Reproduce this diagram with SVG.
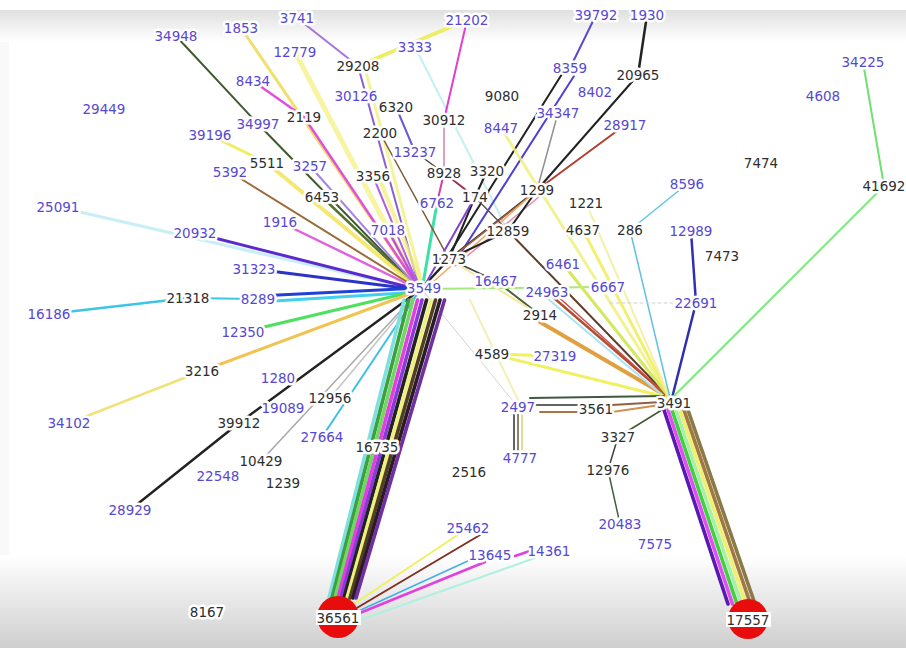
<svg xmlns="http://www.w3.org/2000/svg" width="906" height="648" viewBox="0 0 906 648">
<defs>
<linearGradient id="gTop" x1="0" y1="0" x2="0" y2="1"><stop offset="0" stop-color="#e0e0e0"/><stop offset="1" stop-color="#ffffff"/></linearGradient>
<linearGradient id="gBot" x1="0" y1="0" x2="0" y2="1"><stop offset="0" stop-color="#ffffff"/><stop offset="1" stop-color="#cfcfcf"/></linearGradient>
<style>
text{font-family:"DejaVu Sans",Verdana,sans-serif;font-size:13.5px;text-anchor:middle;paint-order:stroke;stroke:#fff;stroke-width:5px;stroke-linejoin:round}
.b{fill:#5648d2}
.k{fill:#2e2e2e}
.hub{fill:#e80c0c}
.band{fill:#fff}
#edges line{stroke-linecap:round;fill:none}
#bundles line{stroke-width:3.6}
</style>
</defs>

<!-- backdrop -->
<rect width="906" height="648" fill="#fff"/>
<rect x="0" y="10" width="906" height="32" fill="url(#gTop)"/>
<rect x="0" y="42" width="9" height="515" fill="#f9f9f9"/>
<rect x="0" y="555" width="906" height="93" fill="url(#gBot)"/>

<g id="edges">
<!-- hub 3549 -->
<line x1="176" y1="36" x2="258" y2="124" stroke="#3d5a2e" stroke-width="2"/>
<line x1="258" y1="124" x2="420" y2="290" stroke="#3d5a2e" stroke-width="2"/>
<line x1="322" y1="197" x2="420" y2="290" stroke="#55702e" stroke-width="2.5"/>
<line x1="241" y1="28" x2="420" y2="290" stroke="#efe070" stroke-width="3"/>
<line x1="295" y1="52" x2="420" y2="290" stroke="#f4f07a" stroke-width="5" opacity=".7"/>
<line x1="297" y1="18" x2="358" y2="66" stroke="#a574dc" stroke-width="2"/>
<line x1="358" y1="66" x2="420" y2="290" stroke="#8c5ed6" stroke-width="2"/>
<line x1="366" y1="72" x2="424" y2="290" stroke="#f2f080" stroke-width="3" opacity=".8"/>
<line x1="358" y1="66" x2="467" y2="20" stroke="#eeee66" stroke-width="4"/>
<line x1="253" y1="81" x2="304" y2="117" stroke="#e050d8" stroke-width="2.5"/>
<line x1="304" y1="117" x2="420" y2="290" stroke="#e050d8" stroke-width="2.5"/>
<line x1="210" y1="135" x2="267" y2="163" stroke="#eeee60" stroke-width="3"/>
<line x1="267" y1="163" x2="420" y2="290" stroke="#f2e45a" stroke-width="4" opacity=".85"/>
<line x1="230" y1="172" x2="420" y2="290" stroke="#9a6a3a" stroke-width="2"/>
<line x1="310" y1="166" x2="420" y2="290" stroke="#a585e2" stroke-width="2"/>
<line x1="58" y1="207" x2="420" y2="290" stroke="#c8eef6" stroke-width="3"/>
<line x1="280" y1="222" x2="420" y2="290" stroke="#e062dc" stroke-width="2.5"/>
<line x1="195" y1="233" x2="420" y2="290" stroke="#5a2ad0" stroke-width="3"/>
<line x1="254" y1="269" x2="420" y2="290" stroke="#2a32c8" stroke-width="3"/>
<line x1="49" y1="314" x2="188" y2="298" stroke="#3cc6e6" stroke-width="2.5"/>
<line x1="188" y1="298" x2="258" y2="299" stroke="#3cc6e6" stroke-width="2"/>
<line x1="258" y1="296" x2="420" y2="288" stroke="#2040d8" stroke-width="3"/>
<line x1="258" y1="302" x2="420" y2="292" stroke="#40d0f0" stroke-width="3"/>
<line x1="243" y1="332" x2="420" y2="290" stroke="#4ee060" stroke-width="3"/>
<line x1="69" y1="423" x2="202" y2="371" stroke="#f0e27a" stroke-width="2.5"/>
<line x1="202" y1="371" x2="420" y2="290" stroke="#f0c452" stroke-width="3"/>
<line x1="130" y1="510" x2="239" y2="423" stroke="#222" stroke-width="2.5"/>
<line x1="239" y1="423" x2="420" y2="290" stroke="#222" stroke-width="2.5"/>
<line x1="261" y1="461" x2="420" y2="290" stroke="#a8a8a8" stroke-width="1.5"/>
<line x1="330" y1="398" x2="420" y2="290" stroke="#c4c4c4" stroke-width="1.5"/>
<line x1="322" y1="437" x2="420" y2="290" stroke="#3ebee8" stroke-width="2"/>
<line x1="388" y1="230" x2="420" y2="290" stroke="#c050e0" stroke-width="2.5"/>
<line x1="373" y1="176" x2="420" y2="290" stroke="#b060e0" stroke-width="2"/>
<line x1="380" y1="180" x2="424" y2="290" stroke="#f4f080" stroke-width="4" opacity=".8"/>
<line x1="437" y1="203" x2="422" y2="290" stroke="#3ee0a8" stroke-width="3"/>
<line x1="380" y1="133" x2="449" y2="259" stroke="#7a5a3a" stroke-width="1.5"/>
<line x1="449" y1="259" x2="420" y2="290" stroke="#222" stroke-width="2.5"/>
<!-- upper cluster -->
<line x1="415" y1="47" x2="508" y2="231" stroke="#c4f0f2" stroke-width="2"/>
<line x1="467" y1="20" x2="444" y2="120" stroke="#e040d0" stroke-width="2"/>
<line x1="444" y1="120" x2="444" y2="173" stroke="#d880a8" stroke-width="1.5"/>
<line x1="396" y1="107" x2="415" y2="152" stroke="#6a5ad0" stroke-width="2"/>
<line x1="415" y1="152" x2="444" y2="173" stroke="#504040" stroke-width="1.5"/>
<line x1="444" y1="173" x2="437" y2="203" stroke="#d040a8" stroke-width="2"/>
<line x1="444" y1="173" x2="475" y2="197" stroke="#a03050" stroke-width="2"/>
<line x1="475" y1="197" x2="449" y2="259" stroke="#222" stroke-width="2"/>
<line x1="475" y1="197" x2="422" y2="290" stroke="#8040d0" stroke-width="2"/>
<line x1="487" y1="171" x2="475" y2="197" stroke="#222" stroke-width="2"/>
<line x1="596" y1="15" x2="570" y2="68" stroke="#5a4ad0" stroke-width="2"/>
<line x1="574" y1="76" x2="455" y2="262" stroke="#5040d0" stroke-width="2"/>
<line x1="562" y1="74" x2="446" y2="259" stroke="#222" stroke-width="2"/>
<line x1="647" y1="15" x2="638" y2="75" stroke="#222" stroke-width="2.5"/>
<line x1="638" y1="75" x2="537" y2="190" stroke="#222" stroke-width="2"/>
<line x1="625" y1="125" x2="537" y2="190" stroke="#b04030" stroke-width="2"/>
<line x1="558" y1="113" x2="537" y2="190" stroke="#909090" stroke-width="1.5"/>
<line x1="501" y1="128" x2="670" y2="398" stroke="#f0f080" stroke-width="3" opacity=".85"/>
<line x1="537" y1="190" x2="449" y2="259" stroke="#303030" stroke-width="2"/>
<line x1="530" y1="196" x2="445" y2="263" stroke="#b06040" stroke-width="1.5"/>
<line x1="540" y1="196" x2="455" y2="266" stroke="#e88aa8" stroke-width="1.5"/>
<line x1="537" y1="190" x2="424" y2="290" stroke="#f0a860" stroke-width="1.5"/>
<line x1="537" y1="190" x2="508" y2="231" stroke="#222" stroke-width="2"/>
<line x1="508" y1="231" x2="449" y2="259" stroke="#222" stroke-width="2"/>
<line x1="475" y1="197" x2="508" y2="231" stroke="#605050" stroke-width="1.5"/>
<!-- hub 3491 -->
<line x1="508" y1="231" x2="670" y2="398" stroke="#5e3e26" stroke-width="2"/>
<line x1="449" y1="259" x2="496" y2="281" stroke="#404040" stroke-width="1.5"/>
<line x1="496" y1="281" x2="540" y2="315" stroke="#506030" stroke-width="2"/>
<line x1="424" y1="289" x2="608" y2="287" stroke="#a8e880" stroke-width="2"/>
<line x1="449" y1="259" x2="540" y2="315" stroke="#f2e8a0" stroke-width="2"/>
<line x1="540" y1="322" x2="670" y2="398" stroke="#e0a040" stroke-width="4"/>
<line x1="547" y1="292" x2="670" y2="398" stroke="#b05030" stroke-width="2.5"/>
<line x1="553" y1="292" x2="670" y2="398" stroke="#d04848" stroke-width="1.5"/>
<line x1="547" y1="298" x2="668" y2="400" stroke="#a8e4f4" stroke-width="2"/>
<line x1="563" y1="264" x2="670" y2="398" stroke="#d4e860" stroke-width="3"/>
<line x1="583" y1="230" x2="670" y2="398" stroke="#f2f070" stroke-width="3"/>
<line x1="586" y1="203" x2="670" y2="398" stroke="#f4f0a8" stroke-width="2"/>
<line x1="492" y1="354" x2="670" y2="398" stroke="#f0f060" stroke-width="3"/>
<line x1="492" y1="354" x2="555" y2="356" stroke="#f0f060" stroke-width="3"/>
<line x1="630" y1="230" x2="670" y2="398" stroke="#60c0e0" stroke-width="1.5"/>
<line x1="687" y1="184" x2="630" y2="230" stroke="#60c8e0" stroke-width="1.5"/>
<line x1="691" y1="231" x2="696" y2="303" stroke="#3030b0" stroke-width="2.5"/>
<line x1="696" y1="303" x2="672" y2="398" stroke="#3030b0" stroke-width="2.5"/>
<line x1="884" y1="186" x2="672" y2="398" stroke="#80e880" stroke-width="2"/>
<line x1="863" y1="62" x2="884" y2="186" stroke="#70e070" stroke-width="2"/>
<line x1="530" y1="398" x2="664" y2="396" stroke="#405a40" stroke-width="2"/>
<line x1="536" y1="405" x2="580" y2="405" stroke="#303030" stroke-width="1.5"/>
<line x1="540" y1="412" x2="580" y2="412" stroke="#b07040" stroke-width="2"/>
<line x1="612" y1="405" x2="662" y2="402" stroke="#906040" stroke-width="2"/>
<line x1="612" y1="412" x2="660" y2="405" stroke="#d09050" stroke-width="2"/>
<line x1="618" y1="437" x2="665" y2="408" stroke="#405a30" stroke-width="1.5"/>
<line x1="608" y1="470" x2="618" y2="437" stroke="#404040" stroke-width="1.5"/>
<line x1="620" y1="524" x2="608" y2="470" stroke="#406040" stroke-width="1.5"/>
<line x1="514" y1="414" x2="514" y2="450" stroke="#303030" stroke-width="1.5"/>
<line x1="518" y1="414" x2="518" y2="450" stroke="#606030" stroke-width="1.5"/>
<line x1="522" y1="414" x2="522" y2="450" stroke="#d8d070" stroke-width="1.5"/>
<line x1="424" y1="292" x2="518" y2="407" stroke="#d4d4d4" stroke-width="1"/>
<line x1="470" y1="300" x2="518" y2="400" stroke="#f0f0b8" stroke-width="2"/>
<line x1="610" y1="303" x2="690" y2="303" stroke="#d0d0d0" stroke-width="1" stroke-dasharray="3 3"/>
<!-- node 36561 -->
<line x1="468" y1="528" x2="345" y2="610" stroke="#f0f060" stroke-width="2"/>
<line x1="480" y1="535" x2="350" y2="612" stroke="#803020" stroke-width="2"/>
<line x1="470" y1="560" x2="352" y2="614" stroke="#40b0e8" stroke-width="1.5"/>
<line x1="485" y1="562" x2="355" y2="615" stroke="#e040e0" stroke-width="2.5"/>
<line x1="515" y1="556" x2="530" y2="551" stroke="#e040e0" stroke-width="2.5"/>
<line x1="535" y1="558" x2="360" y2="620" stroke="#b0f0e0" stroke-width="2"/>
<g id="bundles">
<!-- 3549 to 36561 -->
<line x1="404" y1="300" x2="329" y2="598" stroke="#80e0e0"/>
<line x1="408.5" y1="300" x2="332" y2="598" stroke="#3ca040"/>
<line x1="413" y1="300" x2="335" y2="598" stroke="#70d860"/>
<line x1="417.5" y1="300" x2="338" y2="598" stroke="#e040e0" stroke-width="4.5"/>
<line x1="422" y1="300" x2="341" y2="598" stroke="#8a3ad8"/>
<line x1="426.5" y1="300" x2="344" y2="598" stroke="#222"/>
<line x1="431" y1="300" x2="347" y2="598" stroke="#f0f080"/>
<line x1="435.5" y1="300" x2="350" y2="598" stroke="#504020"/>
<line x1="440" y1="300" x2="353" y2="598" stroke="#2a1a2a"/>
<line x1="444.5" y1="300" x2="356" y2="598" stroke="#7030a0"/>
<!-- 3491 to 17557 -->
<line x1="664" y1="410" x2="728" y2="604" stroke="#5a1ab0" stroke-width="4"/>
<line x1="668" y1="410" x2="732.5" y2="604" stroke="#e050f0" stroke-width="4"/>
<line x1="672" y1="410" x2="737" y2="604" stroke="#40d040" stroke-width="4"/>
<line x1="676" y1="410" x2="741.5" y2="604" stroke="#a8f0a8" stroke-width="4"/>
<line x1="680" y1="410" x2="746" y2="604" stroke="#f0f070" stroke-width="4"/>
<line x1="684" y1="410" x2="750.5" y2="604" stroke="#a07840" stroke-width="4"/>
<line x1="688" y1="410" x2="755" y2="604" stroke="#8a7a48" stroke-width="4"/>
</g>
</g>

<g id="nodes">
<g id="n34948"><text class="b" x="176" y="41">34948</text></g>
<g id="n1853"><text class="b" x="241" y="33">1853</text></g>
<g id="n3741"><text class="b" x="297" y="23">3741</text></g>
<g id="n12779"><text class="b" x="295" y="57">12779</text></g>
<g id="n8434"><text class="b" x="253" y="86">8434</text></g>
<g id="n29449"><text class="b" x="104" y="114">29449</text></g>
<g id="n34997"><text class="b" x="258" y="129">34997</text></g>
<g id="n39196"><text class="b" x="210" y="140">39196</text></g>
<g id="n5392"><text class="b" x="230" y="177">5392</text></g>
<g id="n3257"><text class="b" x="310" y="171">3257</text></g>
<g id="n25091"><text class="b" x="58" y="212">25091</text></g>
<g id="n1916"><text class="b" x="280" y="227">1916</text></g>
<g id="n20932"><text class="b" x="195" y="238">20932</text></g>
<g id="n7018"><text class="b" x="388" y="235">7018</text></g>
<g id="n31323"><text class="b" x="254" y="274">31323</text></g>
<g id="n8289"><text class="b" x="258" y="304">8289</text></g>
<g id="n16186"><text class="b" x="49" y="319">16186</text></g>
<g id="n12350"><text class="b" x="243" y="337">12350</text></g>
<g id="n1280"><text class="b" x="278" y="383">1280</text></g>
<g id="n19089"><text class="b" x="283" y="413">19089</text></g>
<g id="n27664"><text class="b" x="322" y="442">27664</text></g>
<g id="n34102"><text class="b" x="69" y="428">34102</text></g>
<g id="n22548"><text class="b" x="218" y="481">22548</text></g>
<g id="n28929"><text class="b" x="130" y="515">28929</text></g>
<g id="n30126"><text class="b" x="356" y="101">30126</text></g>
<g id="n13237"><text class="b" x="415" y="157">13237</text></g>
<g id="n6762"><text class="b" x="437" y="208">6762</text></g>
<g id="n16467"><text class="b" x="496" y="286">16467</text></g>
<g id="n24963"><text class="b" x="547" y="297">24963</text></g>
<g id="n6461"><text class="b" x="563" y="269">6461</text></g>
<g id="n6667"><text class="b" x="608" y="292">6667</text></g>
<g id="n27319"><text class="b" x="555" y="361">27319</text></g>
<g id="n2497"><text class="b" x="518" y="412">2497</text></g>
<g id="n4777"><text class="b" x="520" y="463">4777</text></g>
<g id="n25462"><text class="b" x="468" y="533">25462</text></g>
<g id="n13645"><text class="b" x="490" y="560">13645</text></g>
<g id="n14361"><text class="b" x="549" y="556">14361</text></g>
<g id="n20483"><text class="b" x="620" y="529">20483</text></g>
<g id="n7575"><text class="b" x="655" y="549">7575</text></g>
<g id="n8596"><text class="b" x="687" y="189">8596</text></g>
<g id="n12989"><text class="b" x="691" y="236">12989</text></g>
<g id="n22691"><text class="b" x="696" y="308">22691</text></g>
<g id="n34225"><text class="b" x="863" y="67">34225</text></g>
<g id="n4608"><text class="b" x="823" y="101">4608</text></g>
<g id="n21202"><text class="b" x="467" y="25">21202</text></g>
<g id="n3333"><text class="b" x="415" y="52">3333</text></g>
<g id="n39792"><text class="b" x="596" y="20">39792</text></g>
<g id="n1930"><text class="b" x="647" y="20">1930</text></g>
<g id="n8359"><text class="b" x="570" y="73">8359</text></g>
<g id="n8402"><text class="b" x="595" y="97">8402</text></g>
<g id="n34347"><text class="b" x="558" y="118">34347</text></g>
<g id="n8447"><text class="b" x="501" y="133">8447</text></g>
<g id="n28917"><text class="b" x="625" y="130">28917</text></g>
<g id="n3549"><text class="b" x="424" y="293">3549</text></g>

<g id="n29208"><text class="k" x="358" y="71">29208</text></g>
<g id="n2119"><text class="k" x="304" y="122">2119</text></g>
<g id="n5511"><text class="k" x="267" y="168">5511</text></g>
<g id="n6453"><text class="k" x="322" y="202">6453</text></g>
<g id="n6320"><text class="k" x="396" y="112">6320</text></g>
<g id="n2200"><text class="k" x="380" y="138">2200</text></g>
<g id="n30912"><text class="k" x="444" y="125">30912</text></g>
<g id="n3356"><text class="k" x="373" y="181">3356</text></g>
<g id="n8928"><text class="k" x="444" y="178">8928</text></g>
<g id="n3320"><text class="k" x="487" y="176">3320</text></g>
<g id="n174"><text class="k" x="475" y="202">174</text></g>
<g id="n1299"><text class="k" x="537" y="195">1299</text></g>
<g id="n9080"><text class="k" x="502" y="101">9080</text></g>
<g id="n20965"><text class="k" x="638" y="80">20965</text></g>
<g id="n1221"><text class="k" x="586" y="208">1221</text></g>
<g id="n4637"><text class="k" x="583" y="235">4637</text></g>
<g id="n286"><text class="k" x="630" y="235">286</text></g>
<g id="n7474"><text class="k" x="761" y="168">7474</text></g>
<g id="n7473"><text class="k" x="722" y="261">7473</text></g>
<g id="n41692"><text class="k" x="884" y="191">41692</text></g>
<g id="n12859"><text class="k" x="508" y="236">12859</text></g>
<g id="n1273"><text class="k" x="449" y="264">1273</text></g>
<g id="n2914"><text class="k" x="540" y="320">2914</text></g>
<g id="n21318"><text class="k" x="188" y="303">21318</text></g>
<g id="n3216"><text class="k" x="202" y="376">3216</text></g>
<g id="n39912"><text class="k" x="239" y="428">39912</text></g>
<g id="n12956"><text class="k" x="330" y="403">12956</text></g>
<g id="n10429"><text class="k" x="261" y="466">10429</text></g>
<g id="n1239"><text class="k" x="283" y="488">1239</text></g>
<g id="n16735"><text class="k" x="377" y="452">16735</text></g>
<g id="n4589"><text class="k" x="492" y="359">4589</text></g>
<g id="n2516"><text class="k" x="469" y="477">2516</text></g>
<g id="n3561"><text class="k" x="596" y="414">3561</text></g>
<g id="n3491"><text class="k" x="674" y="408">3491</text></g>
<g id="n3327"><text class="k" x="618" y="442">3327</text></g>
<g id="n12976"><text class="k" x="608" y="475">12976</text></g>
<g id="n8167"><text class="k" x="207" y="617">8167</text></g>
<g id="n36561"><circle class="hub" cx="338" cy="617" r="21"/><rect class="band" x="316" y="610" width="45" height="15"/><text class="k" x="338" y="623" style="stroke-width:0">36561</text></g>
<g id="n17557"><circle class="hub" cx="748" cy="619" r="20"/><rect class="band" x="726" y="612" width="45" height="15"/><text class="k" x="748" y="625" style="stroke-width:0">17557</text></g>
</g>
</svg>
